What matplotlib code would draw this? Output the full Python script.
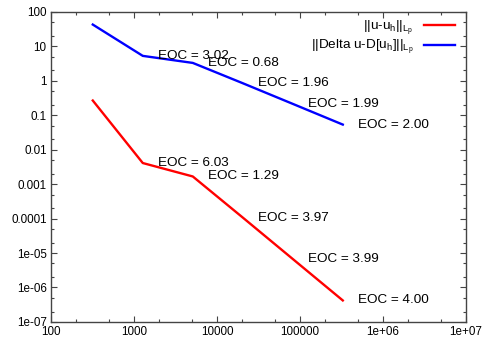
import numpy as np
import matplotlib
matplotlib.use("Agg")
import matplotlib.pyplot as plt
from matplotlib.ticker import FixedLocator, FixedFormatter, LogLocator, NullFormatter

plt.rcParams['font.family'] = ['Liberation Sans', 'DejaVu Sans']

# data
dofs = [320, 1280, 5120, 20480, 81920, 327680]
err_u = [0.268, 0.0041, 0.00167, 1.07e-4, 6.7e-6, 4.2e-7]
err_delta = [43.0, 5.3, 3.31, 0.851, 0.214, 0.0536]
eoc_u = ["6.03", "1.29", "3.97", "3.99", "4.00"]
eoc_delta = ["3.02", "0.68", "1.96", "1.99", "2.00"]

xticks = [1e2, 1e3, 1e4, 1e5, 1e6, 1e7]
xticklabels = ["100", "1000", "10000", "100000", "1e+06", "1e+07"]
yticks = [1e-7, 1e-6, 1e-5, 1e-4, 1e-3, 1e-2, 1e-1, 1, 10, 100]
yticklabels = ["1e-07", "1e-06", "1e-05", "0.0001", "0.001", "0.01", "0.1", "1", "10", "100"]

fig = plt.figure(figsize=(4.84, 3.41), dpi=100)
ax = fig.add_axes([0.105, 0.056, 0.858, 0.909])

ax.plot(dofs, err_u, color="#ff0000", lw=1.7,
        label=r"||u-u$_\mathregular{h}$||$_{\mathregular{L}_\mathregular{p}}$")
ax.plot(dofs, err_delta, color="#0000ff", lw=1.7,
        label=r"||Delta u-D[u$_\mathregular{h}$]||$_{\mathregular{L}_\mathregular{p}}$")

# EOC labels next to each refined point
for x, y, s in zip(dofs[1:], err_u[1:], eoc_u):
    ax.annotate("EOC = " + s, (x, y), xytext=(15, 0), textcoords="offset pixels",
                ha="left", va="center", fontsize=9.7)
for x, y, s in zip(dofs[1:], err_delta[1:], eoc_delta):
    ax.annotate("EOC = " + s, (x, y), xytext=(15, 0), textcoords="offset pixels",
                ha="left", va="center", fontsize=9.7)

ax.set_xscale("log")
ax.set_yscale("log")
ax.set_xlim(1e2, 1e7)
ax.set_ylim(1e-7, 1e2)

ax.xaxis.set_major_locator(FixedLocator(xticks))
ax.xaxis.set_major_formatter(FixedFormatter(xticklabels))
ax.yaxis.set_major_locator(FixedLocator(yticks))
ax.yaxis.set_major_formatter(FixedFormatter(yticklabels))
ax.xaxis.set_minor_locator(LogLocator(base=10, subs=[2, 5], numticks=20))
ax.yaxis.set_minor_locator(LogLocator(base=10, subs=[2, 5], numticks=20))
ax.xaxis.set_minor_formatter(NullFormatter())
ax.yaxis.set_minor_formatter(NullFormatter())

ax.tick_params(which="both", direction="in", top=True, right=True, labelsize=8.4,
               width=0.8, color="#444444")
ax.tick_params(which="major", length=4, pad=3)
ax.tick_params(which="minor", length=2)
for sp in ax.spines.values():
    sp.set_linewidth(1.0)
    sp.set_color("#444444")

ax.legend(loc="upper right", bbox_to_anchor=(0.99, 1.0), frameon=False,
          markerfirst=False, fontsize=9.7, handlelength=2.3, handletextpad=0.8,
          labelspacing=0.0, borderaxespad=0.1)

fig.savefig("out.png", dpi=100)
